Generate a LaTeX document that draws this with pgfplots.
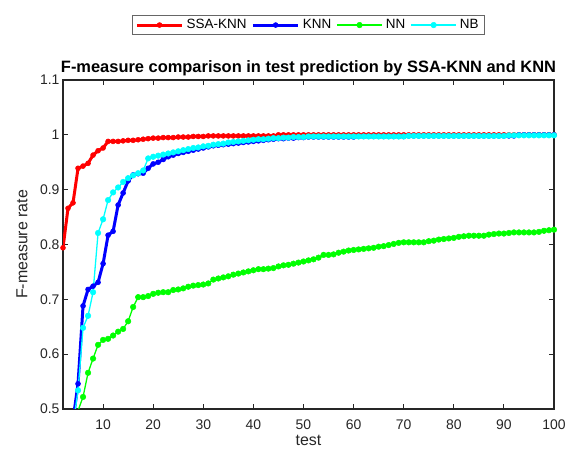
\documentclass[border=0pt]{standalone}
\usepackage{pgfplots}
\pgfplotsset{compat=1.18}
\usepackage{fontspec}
\setmainfont{Liberation Sans}
\definecolor{axisgray}{RGB}{38,38,38}
\definecolor{mred}{RGB}{255,0,0}
\definecolor{mblue}{RGB}{0,0,255}
\definecolor{mgreen}{RGB}{0,255,0}
\definecolor{mcyan}{RGB}{0,255,255}
\begin{document}
\begin{tikzpicture}
\useasboundingbox (-63bp,-45bp) rectangle (520bp,409bp);
\begin{axis}[
  at={(0,0)}, anchor=south west,
  scale only axis, width=491bp, height=329bp,
  xmin=2, xmax=100, ymin=0.5, ymax=1.1,
  xtick={10,20,30,40,50,60,70,80,90,100},
  ytick={0.5,0.6,0.7,0.8,0.9,1,1.1},
  yticklabels={0.5,0.6,0.7,0.8,0.9,1,1.1},
  xticklabels={10,20,30,40,50,60,70,80,90,100},
  tick align=inside,
  major tick length=5bp,
  axis line style={axisgray, line width=1.1bp},
  every tick/.style={axisgray, line width=1.1bp},
  tick label style={font=\fontsize{14}{16}\selectfont, text=axisgray},
  xticklabel style={yshift=-7bp},
  /pgf/number format/assume math mode=true,
  xlabel={test}, ylabel={F-measure rate},
  every axis x label/.style={at={(rel axis cs:0.5,0)}, anchor=center, yshift=-31bp, font=\fontsize{16}{18}\selectfont, text=axisgray},
  every axis y label/.style={at={(rel axis cs:0,0.5)}, xshift=-41bp, rotate=90, anchor=center, font=\fontsize{16}{18}\selectfont, text=axisgray},
  title={F-measure comparison in test prediction by SSA-KNN and KNN},
  every axis title/.style={at={(rel axis cs:0.5,1)}, anchor=center, yshift=12bp, font=\bfseries\fontsize{16.5}{18}\selectfont},
  legend columns=4,
  legend style={at={(rel axis cs:0.5,1.167)}, anchor=center, draw=black!60, line width=0.8bp, fill=white,
    font=\fontsize{13.5}{15}\selectfont, inner xsep=3bp, inner ysep=2bp,
    nodes={inner xsep=3bp, inner ysep=2bp},
    /tikz/every even column/.append style={column sep=2bp}},
  legend image code/.code={\draw[mark repeat=2,mark phase=2,#1] plot coordinates {(0cm,0cm) (0.8cm,0cm) (1.6cm,0cm)};},
  clip=true,
]
\addplot[color=mred, line width=3bp, line join=round, mark=*, mark size=2.5bp, mark options={fill=mred, draw=mred, line width=0.5bp}] table {
x y
2 0.794
3 0.866
4 0.876
5 0.939
6 0.943
7 0.948
8 0.963
9 0.971
10 0.976
11 0.988
12 0.988
13 0.988
14 0.989
15 0.990
16 0.990
17 0.991
18 0.992
19 0.993
20 0.994
21 0.994
22 0.995
23 0.995
24 0.995
25 0.996
26 0.996
27 0.996
28 0.997
29 0.997
30 0.997
31 0.998
32 0.998
33 0.998
34 0.998
35 0.998
36 0.998
37 0.998
38 0.998
39 0.998
40 0.998
41 0.998
42 0.998
43 0.998
44 0.998
45 1.000
46 1.000
47 1.000
48 1.000
49 1.000
50 1.000
51 1.000
52 1.000
53 1.000
54 1.000
55 1.000
56 1.000
57 1.000
58 1.000
59 1.000
60 1.000
61 1.000
62 1.000
63 1.000
64 1.000
65 1.000
66 1.000
67 1.000
68 1.000
69 1.000
70 1.000
71 1.000
72 1.000
73 1.000
74 1.000
75 1.000
76 1.000
77 1.000
78 1.000
79 1.000
80 1.000
81 1.000
82 1.000
83 1.000
84 1.000
85 1.000
86 1.000
87 1.000
88 1.000
89 1.000
90 1.000
91 1.000
92 1.000
93 1.000
94 1.000
95 1.000
96 1.000
97 1.000
98 1.000
99 1.000
100 1.000
};
\addlegendentry{SSA-KNN}
\addplot[color=mblue, line width=3bp, line join=round, mark=*, mark size=2.5bp, mark options={fill=mblue, draw=mblue, line width=0.5bp}] table {
x y
2 0.30
3 0.40
4 0.48
5 0.546
6 0.688
7 0.718
8 0.724
9 0.731
10 0.765
11 0.817
12 0.824
13 0.872
14 0.894
15 0.916
16 0.927
17 0.929
18 0.930
19 0.939
20 0.947
21 0.950
22 0.955
23 0.960
24 0.963
25 0.966
26 0.968
27 0.970
28 0.972
29 0.974
30 0.976
31 0.978
32 0.980
33 0.981
34 0.982
35 0.983
36 0.984
37 0.985
38 0.986
39 0.987
40 0.988
41 0.989
42 0.990
43 0.991
44 0.992
45 0.993
46 0.993
47 0.994
48 0.994
49 0.995
50 0.995
51 0.996
52 0.996
53 0.996
54 0.996
55 0.996
56 0.996
57 0.996
58 0.996
59 0.996
60 0.996
61 0.997
62 0.997
63 0.997
64 0.997
65 0.997
66 0.997
67 0.997
68 0.997
69 0.997
70 0.997
71 0.998
72 0.998
73 0.998
74 0.998
75 0.998
76 0.998
77 0.998
78 0.998
79 0.998
80 0.998
81 0.998
82 0.998
83 0.998
84 0.998
85 0.998
86 0.998
87 0.998
88 0.998
89 0.998
90 0.998
91 0.998
92 0.998
93 1.000
94 1.000
95 1.000
96 1.000
97 1.000
98 1.000
99 1.000
100 1.000
};
\addlegendentry{KNN}
\addplot[color=mgreen, line width=1.3bp, line join=round, mark=*, mark size=2.8bp, mark options={fill=mgreen, draw=mgreen, line width=0.5bp}] table {
x y
2 0.30
3 0.38
4 0.45
5 0.497
6 0.522
7 0.566
8 0.592
9 0.617
10 0.626
11 0.628
12 0.634
13 0.641
14 0.646
15 0.660
16 0.686
17 0.704
18 0.704
19 0.706
20 0.710
21 0.712
22 0.713
23 0.713
24 0.717
25 0.718
26 0.720
27 0.723
28 0.725
29 0.726
30 0.727
31 0.729
32 0.736
33 0.738
34 0.740
35 0.742
36 0.745
37 0.747
38 0.749
39 0.751
40 0.753
41 0.755
42 0.755
43 0.756
44 0.757
45 0.760
46 0.762
47 0.763
48 0.765
49 0.767
50 0.769
51 0.771
52 0.773
53 0.776
54 0.781
55 0.781
56 0.782
57 0.785
58 0.787
59 0.789
60 0.790
61 0.791
62 0.792
63 0.793
64 0.794
65 0.796
66 0.797
67 0.799
68 0.801
69 0.803
70 0.804
71 0.804
72 0.804
73 0.804
74 0.804
75 0.806
76 0.807
77 0.809
78 0.810
79 0.811
80 0.812
81 0.814
82 0.815
83 0.816
84 0.816
85 0.816
86 0.816
87 0.818
88 0.819
89 0.820
90 0.820
91 0.821
92 0.822
93 0.822
94 0.822
95 0.822
96 0.822
97 0.823
98 0.825
99 0.826
100 0.827
};
\addlegendentry{NN}
\addplot[color=mcyan, line width=1.3bp, line join=round, mark=*, mark size=2.8bp, mark options={fill=mcyan, draw=mcyan, line width=0.5bp}] table {
x y
2 0.30
3 0.38
4 0.47
5 0.534
6 0.648
7 0.670
8 0.713
9 0.821
10 0.846
11 0.881
12 0.895
13 0.904
14 0.914
15 0.921
16 0.926
17 0.930
18 0.935
19 0.957
20 0.960
21 0.962
22 0.964
23 0.966
24 0.968
25 0.970
26 0.972
27 0.974
28 0.976
29 0.977
30 0.979
31 0.980
32 0.982
33 0.983
34 0.984
35 0.986
36 0.987
37 0.988
38 0.989
39 0.990
40 0.991
41 0.992
42 0.992
43 0.993
44 0.994
45 0.994
46 0.995
47 0.995
48 0.996
49 0.996
50 0.996
51 0.997
52 0.997
53 0.997
54 0.997
55 0.997
56 0.997
57 0.997
58 0.997
59 0.997
60 0.997
61 0.997
62 0.997
63 0.997
64 0.997
65 0.997
66 0.997
67 0.997
68 0.997
69 0.997
70 0.997
71 0.998
72 0.998
73 0.998
74 0.998
75 0.998
76 0.998
77 0.998
78 0.998
79 0.998
80 0.998
81 0.998
82 0.998
83 0.998
84 0.998
85 0.998
86 0.998
87 0.998
88 0.998
89 0.998
90 0.998
91 0.999
92 0.999
93 0.999
94 0.999
95 0.999
96 0.999
97 0.999
98 0.999
99 0.999
100 0.999
};
\addlegendentry{NB}
\end{axis}
\end{tikzpicture}
\end{document}
